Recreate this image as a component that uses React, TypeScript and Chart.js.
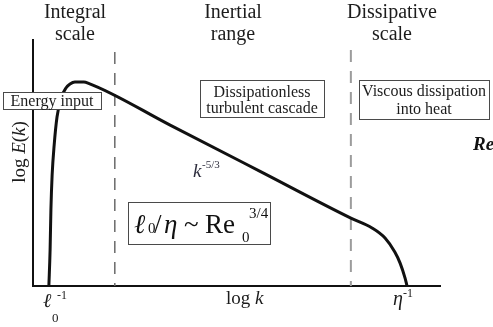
import { useEffect, useRef } from "react";
import { Chart, registerables } from "chart.js";

Chart.register(...registerables);

// Energy spectrum log E(k) against log k (arbitrary log units)
const spectrumLogK = [0.39, 0.42, 0.44, 0.47, 0.52, 0.59, 0.69, 0.81, 0.91, 1.03, 1.25, 1.35, 3.37, 5.58, 7.81, 8.33, 8.65, 8.89, 9.02, 9.14, 9.19];
const spectrumLogE = [0, 1.46, 3.09, 4.51, 5.73, 6.87, 7.64, 8.05, 8.21, 8.29, 8.29, 8.25, 6.54, 4.66, 2.76, 2.36, 1.95, 1.38, 0.93, 0.33, 0];

// Range boundaries (dashed verticals)
const boundaryLogK = [2.01, 7.81];
const boundaryTop = [9.51, 9.59];

// Text labels
const rangeTitles = [
  ["Integral", "scale"],
  ["Inertial", "range"],
  ["Dissipative", "scale"],
];
const energyInputLabel = "Energy input";
const cascadeLabel = ["Dissipationless", "turbulent cascade"];
const viscousLabel = ["Viscous dissipation", "into heat"];

const SERIF = "'Liberation Serif', 'Times New Roman', serif";
const TXT = "#1c1c1c";

type Run = [string, string];

function drawRuns(ctx: CanvasRenderingContext2D, x: number, y: number, runs: Run[], align: "left" | "center" = "left") {
  let total = 0;
  for (const [t, f] of runs) {
    ctx.font = f;
    total += ctx.measureText(t).width;
  }
  let cx = align === "center" ? x - total / 2 : x;
  ctx.textAlign = "left";
  for (const [t, f] of runs) {
    ctx.font = f;
    ctx.fillText(t, cx, y);
    cx += ctx.measureText(t).width;
  }
}

function box(ctx: CanvasRenderingContext2D, x: number, y: number, w: number, h: number) {
  ctx.fillStyle = "#ffffff";
  ctx.fillRect(x, y, w, h);
  ctx.strokeStyle = "#4a4a4a";
  ctx.lineWidth = 1;
  ctx.strokeRect(x + 0.5, y + 0.5, w, h);
}

const annotationPlugin = {
  id: "annotations",
  afterDraw(chart: any) {
    const ctx: CanvasRenderingContext2D = chart.ctx;
    ctx.save();
    ctx.textBaseline = "alphabetic";
    ctx.fillStyle = TXT;

    // Region titles
    const titleX = [75, 233, 392];
    rangeTitles.forEach((lines, i) => {
      ctx.font = `20px ${SERIF}`;
      ctx.textAlign = "center";
      ctx.fillStyle = TXT;
      ctx.fillText(lines[0], titleX[i], 18);
      ctx.fillText(lines[1], titleX[i], 40);
    });

    // Boxes
    box(ctx, 3, 92, 98, 17);
    ctx.fillStyle = TXT;
    ctx.font = `16px ${SERIF}`;
    ctx.textAlign = "center";
    ctx.fillText(energyInputLabel, 52, 106);

    box(ctx, 200, 80, 124, 37);
    ctx.fillStyle = TXT;
    ctx.font = `16px ${SERIF}`;
    ctx.textAlign = "center";
    ctx.fillText(cascadeLabel[0], 262, 97);
    ctx.fillText(cascadeLabel[1], 262, 113);

    box(ctx, 359, 80, 130, 39);
    ctx.fillStyle = TXT;
    ctx.font = `16px ${SERIF}`;
    ctx.textAlign = "center";
    ctx.fillText(viscousLabel[0], 424, 96);
    ctx.fillText(viscousLabel[1], 424, 114);

    // Clipped "Re" at the right edge
    ctx.font = `bold italic 19px ${SERIF}`;
    ctx.textAlign = "left";
    ctx.fillStyle = "#111";
    ctx.fillText("Re", 473, 150);

    // k^-5/3
    ctx.fillStyle = "#2e2e3e";
    ctx.font = `italic 19px ${SERIF}`;
    ctx.fillText("k", 193, 177);
    ctx.font = `11px ${SERIF}`;
    ctx.fillText("-5/3", 202, 168);

    // Formula box
    box(ctx, 128, 202, 142, 42);
    ctx.fillStyle = "#111";
    ctx.textAlign = "left";
    ctx.font = `italic 27px ${SERIF}`;
    ctx.fillText("\u2113", 134, 233);
    ctx.font = `15px ${SERIF}`;
    ctx.fillText("0", 148, 233);
    ctx.font = `27px ${SERIF}`;
    ctx.fillText("/", 154, 233);
    ctx.font = `italic 27px ${SERIF}`;
    ctx.fillText("\u03B7", 164, 233);
    ctx.font = `27px ${SERIF}`;
    ctx.fillText("~", 184, 233);
    ctx.fillText("Re", 205, 233);
    ctx.font = `15px ${SERIF}`;
    ctx.fillText("0", 242, 242);
    ctx.fillText("3/4", 249, 218);

    // Y axis title (rotated)
    ctx.fillStyle = TXT;
    ctx.save();
    ctx.translate(25, 152);
    ctx.rotate(-Math.PI / 2);
    drawRuns(ctx, 0, 0, [
      ["log ", `19px ${SERIF}`],
      ["E", `italic 19px ${SERIF}`],
      ["(", `19px ${SERIF}`],
      ["k", `italic 19px ${SERIF}`],
      [")", `19px ${SERIF}`],
    ], "center");
    ctx.restore();

    // X axis labels
    const xs = chart.scales.x;
    ctx.fillStyle = TXT;
    drawRuns(ctx, xs.getPixelForValue(5.2), 304, [
      ["log ", `19px ${SERIF}`],
      ["k", `italic 19px ${SERIF}`],
    ], "center");

    ctx.textAlign = "left";
    ctx.font = `italic 20px ${SERIF}`;
    ctx.fillText("\u2113", 43, 307);
    ctx.font = `13px ${SERIF}`;
    ctx.fillText("0", 52, 322);
    ctx.font = `12px ${SERIF}`;
    ctx.fillText("-1", 57, 299);

    ctx.font = `italic 20px ${SERIF}`;
    ctx.fillText("\u03B7", 393, 305);
    ctx.font = `12px ${SERIF}`;
    ctx.fillText("-1", 403, 297);

    ctx.restore();
  },
};

export default function App() {
  const ref = useRef<HTMLCanvasElement | null>(null);

  useEffect(() => {
    const canvas = ref.current;
    if (!canvas) return;

    const spectrum = spectrumLogK.map((k, i) => ({ x: k, y: spectrumLogE[i] }));
    const boundaryColors = ["#6a6a6a", "#9c9c9c"];
    const boundaryWidths = [1.5, 2];
    const boundaries = boundaryLogK.map((k, i) => ({
      data: [
        { x: k, y: boundaryTop[i] },
        { x: k, y: 0 },
      ],
      borderColor: boundaryColors[i],
      borderWidth: boundaryWidths[i],
      borderDash: [12, 9],
      pointRadius: 0,
      tension: 0,
      order: 2,
    }));

    const chart = new Chart(canvas, {
      type: "line",
      data: {
        datasets: [
          {
            data: spectrum,
            borderColor: "#111111",
            borderWidth: 3,
            pointRadius: 0,
            cubicInterpolationMode: "monotone",
            borderJoinStyle: "round",
            borderCapStyle: "round",
            order: 0,
          } as any,
          ...boundaries,
        ],
      },
      options: {
        responsive: false,
        animation: false,
        devicePixelRatio: 1,
        layout: { padding: { left: 33, right: 53, top: 40, bottom: 41 } },
        plugins: {
          legend: { display: false },
          tooltip: { enabled: false },
        },
        scales: {
          x: {
            type: "linear",
            min: 0,
            max: 10,
            grid: { display: false, drawTicks: false },
            ticks: { display: false },
            border: { display: true, color: "#111111", width: 2 },
          },
          y: {
            type: "linear",
            min: 0,
            max: 10,
            grid: { display: false, drawTicks: false },
            ticks: { display: false },
            border: { display: true, color: "#111111", width: 2 },
          },
        },
      },
      plugins: [annotationPlugin],
    });

    return () => chart.destroy();
  }, []);

  return (
    <div style={{ position: "absolute", left: 0, top: 0, width: 493, height: 327, background: "#fff" }}>
      <canvas ref={ref} width={493} height={327} style={{ display: "block" }} />
    </div>
  );
}
